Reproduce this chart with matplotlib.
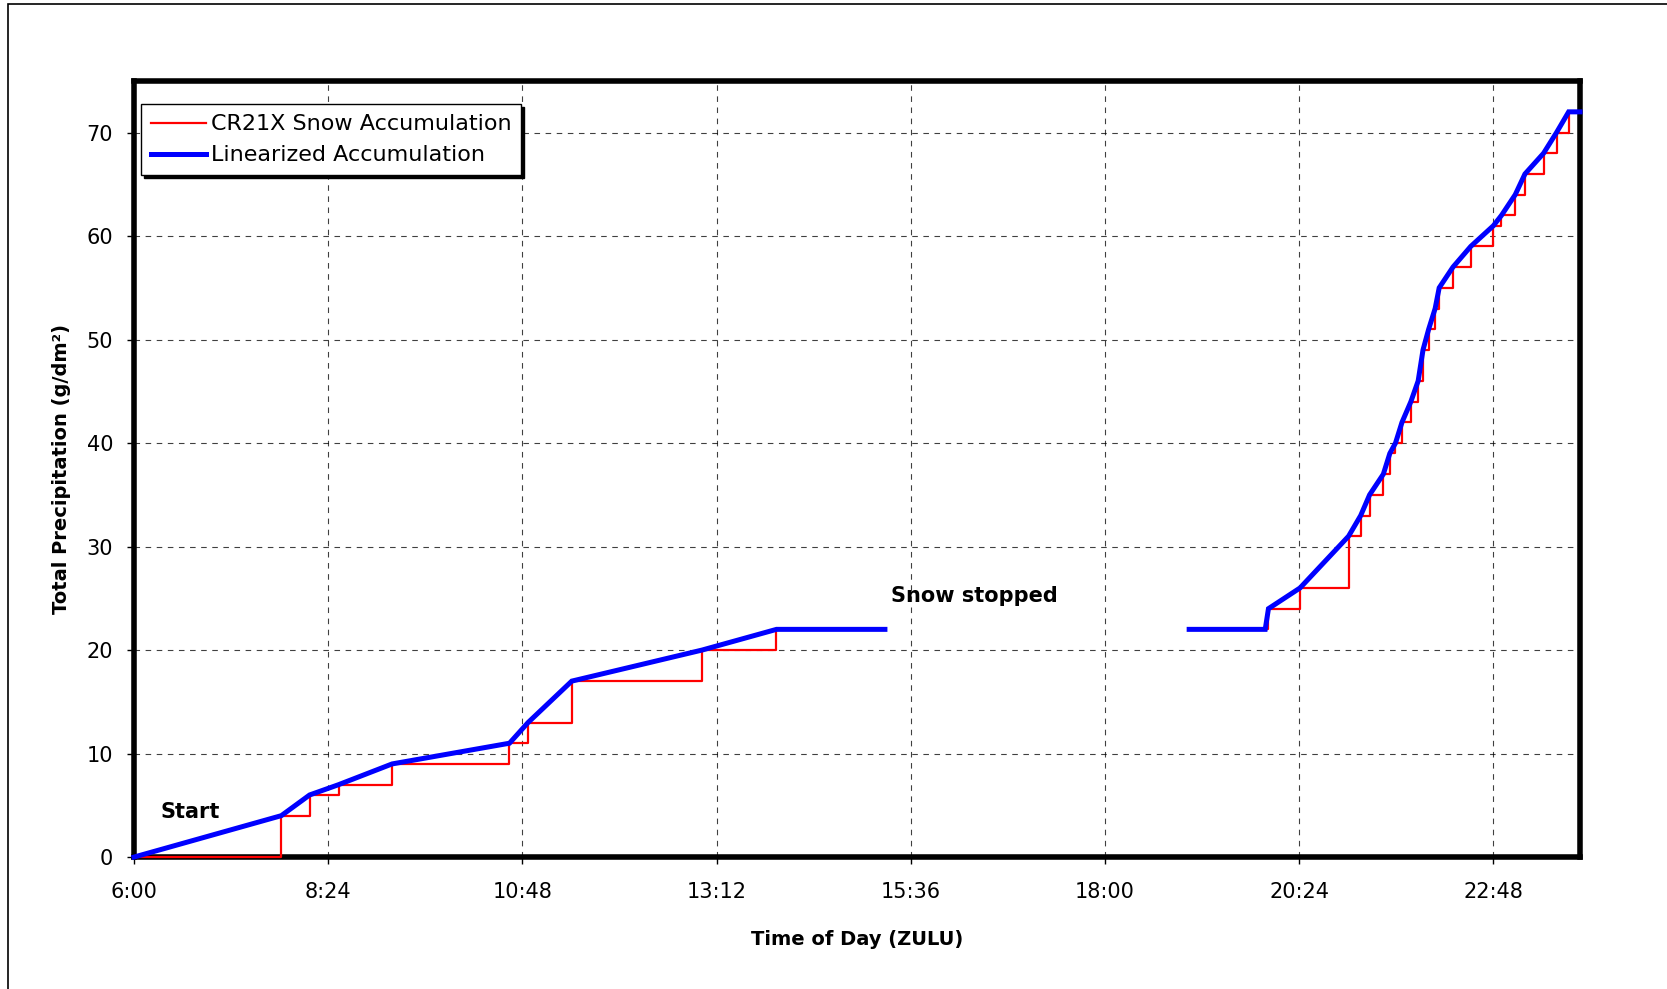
import numpy as np
import matplotlib
matplotlib.use("Agg")
from matplotlib import pyplot as plt
from matplotlib.patches import Rectangle

# time in hours (ZULU), accumulation in g/dm^2
red_t = [6.0, 7.82, 8.17, 8.53, 9.19, 10.64, 10.87, 11.41, 13.02, 13.94, 15.28, np.nan,
         19.04, 20.02, 20.41, 21.01, 21.16, 21.27, 21.44, 21.52, 21.59, 21.67, 21.78,
         21.87, 21.93, 22.00, 22.08, 22.13, 22.30, 22.52, 22.80, 22.90, 23.07, 23.19,
         23.42, 23.58, 23.73, 23.87]
red_v = [0, 4, 6, 7, 9, 11, 13, 17, 20, 22, 22, np.nan,
         22, 24, 26, 31, 33, 35, 37, 39, 40, 42, 44,
         46, 49, 51, 53, 55, 57, 59, 61, 62, 64, 66,
         68, 70, 72, 72]

blue_t = [6.0, 7.82, 8.17, 8.53, 9.19, 10.64, 10.87, 11.41, 13.02, 13.94, 15.28, np.nan,
          19.04, 19.98, 20.02, 20.41, 21.01, 21.16, 21.27, 21.44, 21.52, 21.59, 21.67, 21.78,
          21.87, 21.93, 22.00, 22.08, 22.13, 22.30, 22.52, 22.80, 22.90, 23.07, 23.19,
          23.42, 23.58, 23.73, 23.87]
blue_v = [0, 4, 6, 7, 9, 11, 13, 17, 20, 22, 22, np.nan,
          22, 22, 24, 26, 31, 33, 35, 37, 39, 40, 42, 44,
          46, 49, 51, 53, 55, 57, 59, 61, 62, 64, 66,
          68, 70, 72, 72]

xticks = [6.0, 8.4, 10.8, 13.2, 15.6, 18.0, 20.4, 22.8]
xlabels = ["6:00", "8:24", "10:48", "13:12", "15:36", "18:00", "20:24", "22:48"]

plt.rcParams["font.family"] = "DejaVu Sans"
fig = plt.figure(figsize=(16.67, 9.89), dpi=100)
ax = fig.add_axes([0.0804, 0.1334, 0.8674, 0.7849])

# outer frame of the chart area
fig.patches.append(Rectangle((0.005, -0.01), 1.2, 1.0057, transform=fig.transFigure,
                             fill=False, edgecolor="black", linewidth=1.2))

ax.step(red_t, red_v, where="post", color="red", linewidth=1.6,
        label="CR21X Snow Accumulation", zorder=3, clip_on=False)
ax.plot(blue_t, blue_v, color="blue", linewidth=3.6, label="Linearized Accumulation",
        solid_joinstyle="miter", zorder=4, clip_on=False)

ax.set_xlim(6.0, 23.87)
ax.set_ylim(0, 75)
ax.set_xticks(xticks)
ax.set_xticklabels(xlabels)
ax.set_yticks(range(0, 71, 10))
ax.tick_params(labelsize=15, length=5, width=1, pad=10)
ax.tick_params(axis="x", pad=13)
ax.grid(True, color="black", linestyle=(0, (5, 5)), linewidth=0.8, alpha=0.75)
for s in ax.spines.values():
    s.set_linewidth(4)

ax.set_xlabel("Time of Day (ZULU)", fontsize=14, fontweight="bold", labelpad=20)
ax.set_ylabel("Total Precipitation (g/dm²)", fontsize=14, fontweight="bold", labelpad=11)

ax.text(6.33, 4.4, "Start", fontsize=15, fontweight="bold", va="center")
ax.text(15.36, 25.2, "Snow stopped", fontsize=15, fontweight="bold", va="center")

leg = ax.legend(loc="upper left", bbox_to_anchor=(-0.003, 0.984), fontsize=16,
                fancybox=False, framealpha=1, edgecolor="black", borderpad=0.45,
                handlelength=2.5, handletextpad=0.2, labelspacing=0.5,
                shadow={"color": "black", "alpha": 1})
leg.get_frame().set_linewidth(1)

fig.savefig("out.png", dpi=100)
